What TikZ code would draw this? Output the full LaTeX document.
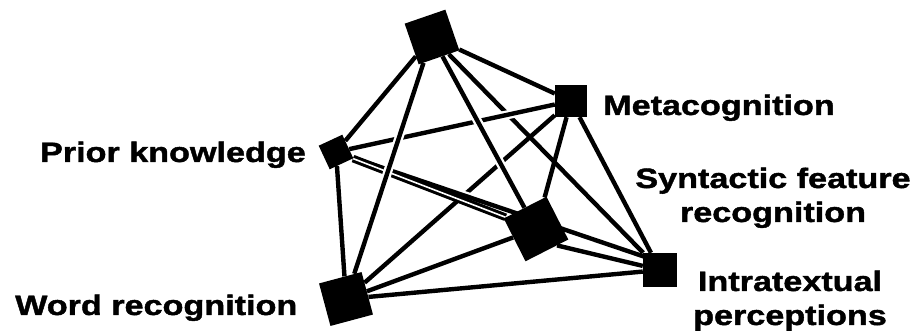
\documentclass[tikz,border=0pt]{standalone}
\usepackage{fontspec}
\newfontfamily\lblfont[FakeStretch=1.22, FakeBold=1.5]{Liberation Sans}
\usetikzlibrary{positioning}
\usetikzlibrary{backgrounds}

\begin{document}
\begin{tikzpicture}[
    x=1pt, y=1pt,
    sq/.style={fill=black, minimum size=#1, inner sep=0pt},
    link/.style={line width=4.4pt},
    front/.style={link, preaction={draw, white, line width=9pt}},
    pair/.style={line width=3pt, double=white, double distance=1.6pt},
    lbl/.style={font=\lblfont\bfseries\fontsize{28}{34}\selectfont, inner sep=0pt, align=center}
]
    \useasboundingbox (0,0) rectangle (917,331);

    % Squares
    \node[sq=43, rotate=19] (top) at (432,294) {};
    \node[sq=32] (meta) at (571,230) {};
    \node[sq=26, rotate=25] (prior) at (336,179) {};
    \node[sq=48, rotate=27] (synt) at (536,102) {};
    \node[sq=34] (intra) at (660,61) {};
    \node[sq=44, rotate=15] (word) at (346,32) {};
    \coordinate (intrain) at (657,70);

    % Labels
    \node[lbl, anchor=base west] (metalbl) at (603,216) {Metacognition};
    \node[lbl, anchor=base east] (priorlbl) at (306,169) {Prior knowledge};
    \node[lbl, anchor=base] (syntlbl) at (773,109) {Syntactic feature\\recognition};
    \node[lbl, anchor=base] (intralbl) at (790,6) {Intratextual\\perceptions};
    \node[lbl, anchor=base west] (wordlbl) at (15,16) {Word recognition};

    % Connections, back to front
    \begin{scope}[on background layer]
    \draw[link] (word) -- (meta);
    \draw[front] (prior) -- (intrain);
    \draw[link] (top) -- (intra);
    \draw[front] (prior) -- (meta);
    \draw[front] (top) -- (synt);
    \draw[pair] (prior) -- (synt);
    \draw[front] (top) -- (word);
    \draw[link] (top) -- (prior);
    \draw[link] (top) -- (meta);
    \draw[link] (prior) -- (word);
    \draw[link] (word) -- (synt);
    \draw[link] (word) -- (intra);
    \draw[link] (meta) -- (synt);
    \draw[link] (meta) -- (intra);
    \draw[link] (synt.-65) -- (intra);
    \end{scope}
\end{tikzpicture}
\end{document}
